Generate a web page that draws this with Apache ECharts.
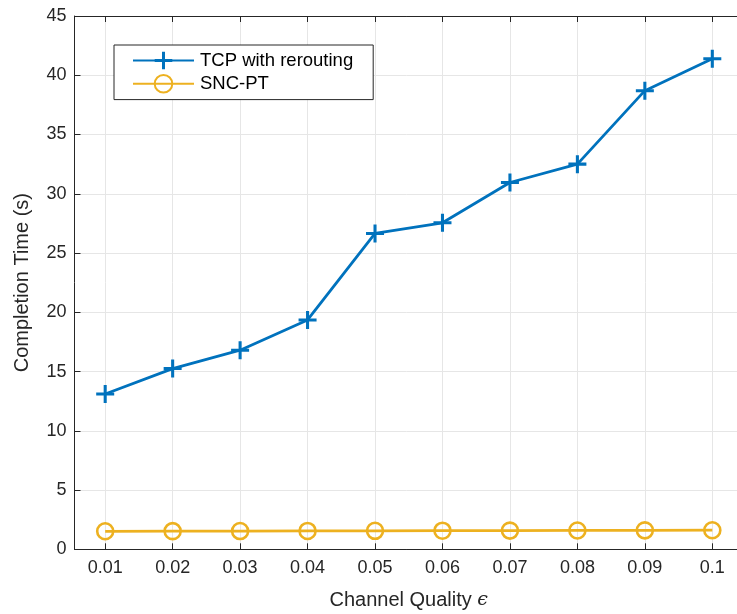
<!DOCTYPE html>
<html>
<head>
<meta charset="utf-8">
<style>
  html, body { margin: 0; padding: 0; background: #fff; }
  #chart { width: 737px; height: 614px; }
</style>
<script src="https://cdn.jsdelivr.net/npm/echarts@6/dist/echarts.min.js"></script>
</head>
<body>
<div id="chart"></div>
<script>
// Channel quality values on the x axis and their tick labels
var epsilon = [0.01, 0.02, 0.03, 0.04, 0.05, 0.06, 0.07, 0.08, 0.09, 0.1];
var xTickLabels = ['0.01', '0.02', '0.03', '0.04', '0.05', '0.06', '0.07', '0.08', '0.09', '0.1'];
var yTicks = [0, 5, 10, 15, 20, 25, 30, 35, 40, 45];

// Completion time (s) for each scheme
var tcpRerouting = [13.1, 15.25, 16.8, 19.35, 26.65, 27.55, 30.95, 32.5, 38.7, 41.4];
var sncPt = [1.52, 1.53, 1.54, 1.55, 1.56, 1.57, 1.58, 1.59, 1.6, 1.61];

var seriesNames = ['TCP with rerouting', 'SNC-PT'];

var FONT = '"Liberation Sans", Arial, Helvetica, sans-serif';
var AXIS_COLOR = '#262626';
var GRID_COLOR = '#e6e6e6';
var BLUE = '#0072BD';
var YELLOW = '#EDB120';

// thick "+" marker
var PLUS = 'path://M8.3,0h3.4v8.3h8.3v3.4h-8.3v8.3h-3.4v-8.3h-8.3v-3.4h8.3z';

function pairs(xs, ys) {
  return xs.map(function (x, i) { return [x, ys[i]]; });
}

var xLabelMap = {};
epsilon.forEach(function (v, i) { xLabelMap[v.toFixed(3)] = xTickLabels[i]; });

var chart = echarts.init(document.getElementById('chart'), null, { renderer: 'canvas' });

var xMin = 0.00545, xMax = 0.10455;

chart.setOption({
  animation: false,
  backgroundColor: '#ffffff',
  textStyle: { fontFamily: FONT },
  grid: { left: 74.5, top: 16, bottom: 64.7, width: 668.5, containLabel: false, outerBoundsMode: 'none' },
  legend: {
    data: seriesNames,
    orient: 'vertical',
    left: 114,
    top: 45,
    padding: [6, 20, 6, 18],
    itemWidth: 61,
    itemHeight: 22,
    itemGap: 4,
    backgroundColor: '#fff',
    borderColor: AXIS_COLOR,
    borderWidth: 1,
    borderRadius: 0,
    textStyle: { fontFamily: FONT, fontSize: 18.5, color: '#000', padding: [0, 0, 0, 1] }
  },
  xAxis: [{
    type: 'value',
    min: xMin,
    max: xMax,
    name: 'Channel Quality {e|\u03F5}',
    nameLocation: 'middle',
    nameGap: 41,
    nameTextStyle: {
      fontFamily: FONT, fontSize: 20, color: AXIS_COLOR,
      rich: { e: { fontFamily: '"DejaVu Serif", serif', fontStyle: 'italic', fontSize: 19, color: AXIS_COLOR } }
    },
    axisLine: { show: true, onZero: false, lineStyle: { color: AXIS_COLOR, width: 1 } },
    axisTick: { show: true, inside: true, length: 6, customValues: epsilon, lineStyle: { color: AXIS_COLOR } },
    axisLabel: {
      show: true, margin: 10, fontSize: 18, color: AXIS_COLOR, fontFamily: FONT,
      customValues: epsilon,
      formatter: function (v) { return xLabelMap[v.toFixed(3)] || ''; }
    },
    splitLine: { show: true, lineStyle: { color: GRID_COLOR, width: 1 } }
  }, {
    type: 'value',
    position: 'top',
    min: xMin,
    max: xMax,
    axisLine: { show: true, onZero: false, lineStyle: { color: AXIS_COLOR, width: 1 } },
    axisTick: { show: true, inside: true, length: 6, customValues: epsilon, lineStyle: { color: AXIS_COLOR } },
    axisLabel: { show: false },
    splitLine: { show: false }
  }],
  yAxis: {
    type: 'value',
    min: 0,
    max: 45,
    interval: 5,
    name: 'Completion Time (s)',
    nameLocation: 'middle',
    nameGap: 42,
    nameTextStyle: { fontFamily: FONT, fontSize: 20, color: AXIS_COLOR },
    axisLine: { show: true, onZero: false, lineStyle: { color: AXIS_COLOR, width: 1 } },
    axisTick: { show: true, inside: true, length: 6, lineStyle: { color: AXIS_COLOR } },
    axisLabel: {
      margin: 8, fontSize: 18, color: AXIS_COLOR, fontFamily: FONT,
      formatter: function (v) { return yTicks.indexOf(v) >= 0 ? String(v) : ''; }
    },
    splitLine: { show: true, lineStyle: { color: GRID_COLOR, width: 1 } }
  },
  series: [{
    name: seriesNames[0],
    type: 'line',
    xAxisIndex: 0,
    data: pairs(epsilon, tcpRerouting),
    symbol: PLUS,
    symbolSize: 18,
    lineStyle: { color: BLUE, width: 2.8 },
    itemStyle: { color: BLUE },
    z: 3
  }, {
    name: seriesNames[1],
    type: 'line',
    xAxisIndex: 0,
    data: pairs(epsilon, sncPt),
    symbol: 'circle',
    symbolSize: 16,
    lineStyle: { color: YELLOW, width: 2.8 },
    itemStyle: { color: 'rgba(255,255,255,0)', borderColor: YELLOW, borderWidth: 2.6 },
    z: 2
  }]
});
</script>
</body>
</html>
